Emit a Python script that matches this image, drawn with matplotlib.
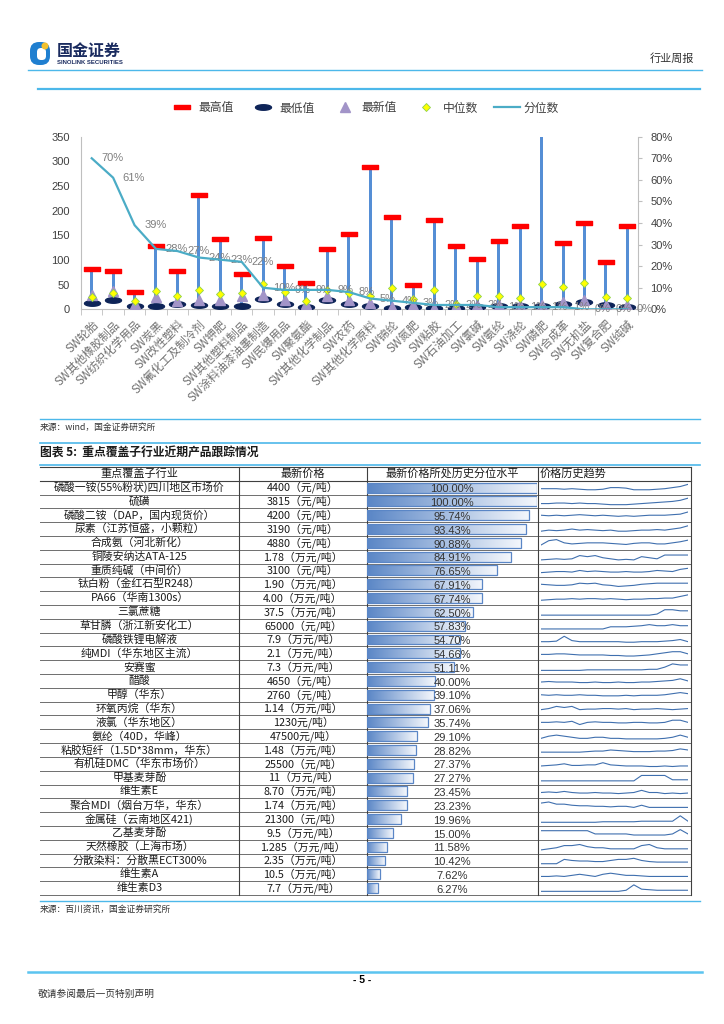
import numpy as np
import matplotlib
matplotlib.use('Agg')
import matplotlib.pyplot as plt
from matplotlib.path import Path
from matplotlib.lines import Line2D
from matplotlib.colors import LinearSegmentedColormap
from matplotlib.patches import FancyBboxPatch, Circle
from matplotlib.ticker import FuncFormatter

plt.rcParams['font.family'] = ['Liberation Sans', 'Noto Sans CJK SC', 'DejaVu Sans']
CJK = ['Noto Sans CJK SC', 'DejaVu Sans']

# ---- chart data (top) ----
categories = ['SW轮胎', 'SW其他橡胶制品', 'SW纺织化学用品', 'SW炭黑', 'SW改性塑料',
              'SW氟化工及制冷剂', 'SW钾肥', 'SW其他塑料制品', 'SW涂料油漆油墨制造',
              'SW民爆用品', 'SW聚氨酯', 'SW其他化学制品', 'SW农药', 'SW其他化学原料',
              'SW锦纶', 'SW氮肥', 'SW粘胶', 'SW石油加工', 'SW氯碱', 'SW氨纶', 'SW涤纶',
              'SW磷肥', 'SW合成革', 'SW无机盐', 'SW复合肥', 'SW纯碱']
max_vals = [81, 77, 36, 128, 77, 232, 142, 72, 145, 87, 53, 122, 153, 288,
            188, 49, 182, 128, 101, 139, 169, 360, 134, 174, 95, 169]
min_vals = [12, 18, 7, 7, 10, 8, 7, 7, 20, 10, 4, 18, 11, 7,
            3, 5, 2, 3, 5, 7, 7, 6, 11, 15, 9, 5]
latest_vals = [29, 37, 11, 24, 16, 18, 19, 26, 30, 18, 10, 27, 18, 12,
               5, 9, 2, 6, 8, 9, 9, 8, 15, 18, 9, 9]
median_vals = [24, 34, 16, 37, 26, 40, 31, 33, 51, 36, 16, 40, 33, 26,
               43, 21, 39, 11, 26, 27, 23, 51, 45, 53, 24, 23]
pct_vals = [70, 61, 39, 28, 27, 24, 23, 22, 10, 9, 9, 9, 8, 5,
            4, 3, 2, 2, 2, 1, 1, 1, 1, 0, 0, 0]

# ---- table data (bottom) ----
products = ['磷酸一铵(55%粉状)四川地区市场价', '硫磺', '磷酸二铵（DAP，国内现货价）',
            '尿素（江苏恒盛，小颗粒）', '合成氨（河北新化）', '铜陵安纳达ATA-125',
            '重质纯碱（中间价）', '钛白粉（金红石型R248）', 'PA66（华南1300s）', '三氯蔗糖',
            '草甘膦（浙江新安化工）', '磷酸铁锂电解液', '纯MDI（华东地区主流）', '安赛蜜',
            '醋酸', '甲醇（华东）', '环氧丙烷（华东）', '液氯（华东地区）', '氨纶（40D，华峰）',
            '粘胶短纤（1.5D*38mm，华东）', '有机硅DMC（华东市场价）', '甲基麦芽酚', '维生素E',
            '聚合MDI（烟台万华，华东）', '金属硅（云南地区421)', '乙基麦芽酚',
            '天然橡胶（上海市场）', '分散染料：分散黑ECT300%', '维生素A', '维生素D3']
prices = ['4400（元/吨）', '3815（元/吨）', '4200（元/吨）', '3190（元/吨）', '4880（元/吨）',
          '1.78（万元/吨）', '3100（元/吨）', '1.90（万元/吨）', '4.00（万元/吨）',
          '37.5（万元/吨）', '65000（元/吨）', '7.9（万元/吨）', '2.1（万元/吨）',
          '7.3（万元/吨）', '4650（元/吨）', '2760（元/吨）', '1.14（万元/吨）', '1230元/吨）',
          '47500元/吨）', '1.48（万元/吨）', '25500（元/吨）', '11（万元/吨）', '8.70（万元/吨）',
          '1.74（万元/吨）', '21300（元/吨）', '9.5（万元/吨）', '1.285（万元/吨）',
          '2.35（万元/吨）', '10.5（万元/吨）', '7.7（万元/吨）']
quantiles = [100.00, 100.00, 95.74, 93.43, 90.88, 84.91, 76.65, 67.91, 67.74, 62.50,
             57.83, 54.70, 54.66, 51.11, 40.00, 39.10, 37.06, 35.74, 29.10, 28.82,
             27.37, 27.27, 23.45, 23.23, 19.96, 15.00, 11.58, 10.42, 7.62, 6.27]
# rough price history read off the sparklines
trend_vals = [
    [4, 4, 4, 3.5, 4, 3.5, 3, 3, 3.5, 5, 5, 4.5, 3, 3, 3, 3.5, 4, 5, 6, 8],
    [3, 3, 3.5, 3.5, 3, 3.5, 3, 3, 2.5, 2, 2, 2, 2.5, 3, 3.5, 4, 4.5, 5, 6, 8],
    [5, 4.5, 5, 4.5, 5, 5.5, 5, 4.5, 5, 4.5, 4, 4.5, 4, 4.5, 5, 5, 5, 5.5, 6, 8],
    [3, 4, 3.5, 4, 5, 4, 4.5, 4, 3.5, 4, 3, 3, 3.5, 4, 4, 4.5, 4, 5, 6, 8],
    [3, 7, 8, 5, 4, 4.5, 5, 5, 5, 4.5, 4, 3.5, 4.5, 5, 5, 4, 4, 5, 6, 7.5],
    [2, 2.5, 3, 2.5, 3, 6, 5, 6, 4, 3, 2, 2.5, 2, 5, 4, 3, 6.5, 6.5, 6.5, 6.5],
    [3, 3.5, 4, 4, 3.5, 5, 4, 4.5, 4, 3.5, 3.5, 4, 3.5, 3.5, 4, 5, 4.5, 4, 6, 7],
    [5, 4.5, 4, 4, 4.5, 6, 5.5, 6, 4.5, 4, 3, 3.5, 4, 5, 5.5, 6, 6, 6, 6, 6],
    [3, 3.5, 4, 4, 4.5, 4, 4.5, 4.5, 4, 4.5, 4, 3.5, 4, 4, 4.5, 4.5, 5, 5, 6.5, 8],
    [2, 2, 2, 2, 2, 2, 2, 2, 2, 2, 2, 2, 2, 2, 2, 3, 7, 7, 6, 6],
    [2, 2, 2, 2, 2, 2, 2, 2, 2, 4, 4, 4, 4.5, 5, 6, 5, 5, 6, 5, 5],
    [3, 3, 3.5, 8, 4, 3, 3, 3, 3, 3, 3, 2.5, 2.5, 3, 3, 3, 3.5, 4, 5, 3],
    [4, 4, 4.5, 4.5, 4, 3.5, 3.5, 3.5, 3.5, 3, 3, 2.5, 2.5, 3, 3.5, 4.5, 5.5, 6.5, 6.5, 4.5],
    [2, 2, 2, 2, 2, 2, 2.5, 2.5, 2.5, 2.5, 2.5, 2.5, 2.5, 2.5, 3, 3, 5, 8, 7, 7],
    [4, 4.5, 4, 4, 4, 3.5, 3.5, 4, 3.5, 3.5, 4, 3.5, 3.5, 4, 4, 4.5, 5, 5.5, 7, 5],
    [5, 4.5, 5, 4.5, 4.5, 5, 4.5, 4.5, 4, 4, 4, 4.5, 4, 4.5, 4.5, 4.5, 5, 6, 7, 6],
    [4, 5, 7, 6, 7, 4, 4.5, 4.5, 5, 5, 4.5, 5, 4, 4.5, 4.5, 5, 4.5, 4, 4.5, 5],
    [5, 5, 5.5, 5, 6, 3, 5, 5.5, 5, 5, 4.5, 4.5, 5, 5, 4.5, 4.5, 5, 7, 7, 5],
    [3, 5, 6, 5, 4, 3, 3, 4, 4, 3, 3, 2.5, 2.5, 2.5, 2.5, 2.5, 3, 4, 6, 4],
    [3, 3, 3, 3, 3, 3, 3.5, 4, 4, 5, 4.5, 4, 3.5, 3.5, 3.5, 4, 4, 4.5, 6, 5],
    [3, 3.5, 4, 5, 3.5, 3.5, 4, 4, 6, 4, 3.5, 3, 3, 3, 2.5, 2.5, 3, 2.5, 3, 3],
    [2, 2, 2, 2, 2, 2, 2, 2, 2, 2, 2, 2, 2, 7, 7, 7, 7, 3, 3, 3],
    [4, 4.5, 4, 5, 4, 3.5, 3.5, 4, 3.5, 3.5, 3, 3.5, 4, 6, 4, 4, 3, 3.5, 3, 3.5],
    [7, 8, 6, 6, 5, 4.5, 4.5, 4, 4, 3.5, 4, 4, 3, 5, 3, 3, 3, 3, 3, 3],
    [2, 2, 2, 2, 2, 2, 2, 2, 2.5, 2.5, 2.5, 2.5, 2.5, 3, 3, 3, 3, 3, 8, 3],
    [7, 7, 7, 7, 7, 7, 7, 4, 4, 4, 4, 4, 3, 3, 3, 3, 3, 4, 8, 4],
    [2, 3, 4, 6, 6, 7, 5, 4, 4, 3, 3, 3, 3, 6, 7, 4, 3, 3, 3, 3],
    [2, 2, 2, 6, 5, 4.5, 4.5, 4, 4, 5, 6, 6, 7, 5, 4, 3.5, 3.5, 3.5, 3.5, 3.5],
    [3, 3, 3.5, 3, 4, 5, 4, 3, 5, 6, 5, 4, 4, 3.5, 3, 3, 3, 3, 3, 3],
    [2, 2, 2, 2, 2, 2, 2, 2, 2, 2, 2, 3, 8, 4, 3.5, 3, 3, 3, 3, 3],
]

W, H = 724, 1024
BLUE_LINE = '#4DB8EA'
fig = plt.figure(figsize=(7.24, 10.24), dpi=100)


def box(x0, y0, x1, y1):
    # pixel box -> figure fraction
    return [x0 / W, 1 - y1 / H, (x1 - x0) / W, (y1 - y0) / H]


page = fig.add_axes([0, 0, 1, 1])
page.set_xlim(0, W)
page.set_ylim(H, 0)
page.axis('off')

# header
page.add_patch(FancyBboxPatch((30, 42), 20, 23, boxstyle='round,pad=0,rounding_size=9',
                              fc='#1F7FD0', ec='none'))
page.add_patch(FancyBboxPatch((37, 48), 9, 12, boxstyle='round,pad=0,rounding_size=4',
                              fc='white', ec='none'))
page.add_patch(Circle((45, 46), 3.5, fc='#F2C12E', ec='none'))
page.text(57, 51, '国金证券', fontfamily=CJK, fontsize=11.5, fontweight='bold',
          color='#1A2B5F', va='center')
page.text(57, 63, 'SINOLINK SECURITIES', fontsize=4.3, fontweight='bold',
          color='#1A2B5F', va='center')
page.text(694, 59, '行业周报', fontfamily=CJK, fontsize=8, color='#333333',
          ha='right', va='center')
page.plot([28, 702], [69.5, 69.5], color=BLUE_LINE, lw=1.0)
page.plot([38, 700], [88.5, 88.5], color=BLUE_LINE, lw=1.6)

# ---- top chart ----
n = len(categories)
x = np.arange(n)
cap = Path([(-1.6, -0.5), (1.6, -0.5), (1.6, 0.5), (-1.6, 0.5), (-1.6, -0.5)], closed=True)
t = np.linspace(0, 2 * np.pi, 40)
oval = Path(np.column_stack([1.45 * np.cos(t), 0.5 * np.sin(t)]), closed=True)

ax = fig.add_axes(box(81, 136.7, 638, 309.3))
ax.set_xlim(-0.5, n - 0.5)
ax.set_ylim(0, 350)
ax.bar(x, np.array(max_vals) - np.array(min_vals), bottom=min_vals, width=0.14,
       color='#558ED5', zorder=2)
ax.plot(x, max_vals, ls='none', marker=cap, ms=11.5, color='#FF0000', zorder=3)
ax.plot(x, min_vals, ls='none', marker=oval, ms=11.5, color='#0E2458', zorder=3)
ax.plot(x, latest_vals, ls='none', marker='^', ms=7, color='#A294C8', zorder=4)
ax.plot(x, median_vals, ls='none', marker='D', ms=4.5, mfc='#FFFF00', mec='#8FD14F',
        mew=0.6, zorder=5)
ax.set_yticks(np.arange(0, 351, 50))
ax.tick_params(axis='y', length=0, pad=8, labelsize=8, labelcolor='#404040')
ax.set_xticks(x)
ax.set_xticklabels(categories, rotation=45, ha='right', rotation_mode='anchor',
                   fontfamily=CJK, fontsize=8.3, fontweight='light', color='#707070')
ax.tick_params(axis='x', which='major', length=0, pad=6)
ax.set_xticks(np.arange(n + 1) - 0.5, minor=True)
ax.tick_params(axis='x', which='minor', length=4, color='#BFBFBF')
for s in ['top', 'right']:
    ax.spines[s].set_visible(False)
for s in ['left', 'bottom']:
    ax.spines[s].set_color('#BFBFBF')

ax2 = ax.twinx()
ax2.set_ylim(0, 0.8)
ax2.plot(x, np.array(pct_vals) / 100, color='#4BACC6', lw=1.6, zorder=6)
for xi, p in zip(x, pct_vals):
    ax2.annotate(f'{p}%', (xi, p / 100), xytext=(7, 0), textcoords='offset points',
                 ha='left', va='center', fontsize=8, color='#7F7F7F')
ax2.set_yticks(np.arange(0, 0.81, 0.1))
ax2.yaxis.set_major_formatter(FuncFormatter(lambda v, _: f'{v * 100:.0f}%'))
ax2.tick_params(axis='y', length=3, color='#BFBFBF', pad=6, labelsize=8, labelcolor='#404040')
for s in ['top', 'left', 'bottom']:
    ax2.spines[s].set_visible(False)
ax2.spines['right'].set_color('#BFBFBF')

handles = [
    Line2D([], [], ls='none', marker=cap, ms=11.5, color='#FF0000'),
    Line2D([], [], ls='none', marker=oval, ms=11.5, color='#0E2458'),
    Line2D([], [], ls='none', marker='^', ms=7, color='#A294C8'),
    Line2D([], [], ls='none', marker='D', ms=4.5, mfc='#FFFF00', mec='#8FD14F', mew=0.6),
    Line2D([], [], color='#4BACC6', lw=1.6),
]
fig.legend(handles, ['最高值', '最低值', '最新值', '中位数', '分位数'], ncol=5,
           loc='center', bbox_to_anchor=(364 / W, 1 - 108 / H), frameon=False,
           prop={'family': CJK, 'size': 8.5}, labelcolor='#404040',
           handlelength=2.2, handletextpad=0.3, columnspacing=1.4)

page.plot([40, 700], [418.5, 418.5], color=BLUE_LINE, lw=1.0)
page.text(40, 427, '来源：wind，国金证券研究所', fontfamily=CJK, fontsize=6.3,
          color='#333333', va='center')

# ---- table ----
page.plot([40, 700], [443, 443], color=BLUE_LINE, lw=1.2)
page.plot([40, 700], [464.5, 464.5], color=BLUE_LINE, lw=1.2)
page.text(40, 453.5, '图表 5:  重点覆盖子行业近期产品跟踪情况', fontfamily=CJK,
          fontsize=8.5, fontweight='bold', color='#1A1A1A', va='center')

cols = [40, 239, 367, 538, 691]
top, head_bot, bot = 466.7, 480.7, 895.0
nr = len(products)
rh = (bot - head_bot) / nr

page.plot([cols[0], cols[-1]], [top, top], color='#404040', lw=0.8)
page.plot([cols[0], cols[-1]], [head_bot, head_bot], color='#404040', lw=0.8)
for i in range(1, nr + 1):
    yy = head_bot + i * rh
    page.plot([cols[0], cols[-1]], [yy, yy], color='#6E6E6E', lw=0.7)
for cx in cols[1:]:
    page.plot([cx, cx], [top, bot], color='#404040', lw=0.8)

hy = (top + head_bot) / 2
page.text((cols[0] + cols[1]) / 2, hy, '重点覆盖子行业', fontfamily=CJK, fontsize=8,
          ha='center', va='center', color='#1A1A1A')
page.text((cols[1] + cols[2]) / 2, hy, '最新价格', fontfamily=CJK, fontsize=8,
          ha='center', va='center', color='#1A1A1A')
page.text((cols[2] + cols[3]) / 2, hy, '最新价格所处历史分位水平', fontfamily=CJK, fontsize=8,
          ha='center', va='center', color='#1A1A1A')
page.text(cols[3] + 2, hy, '价格历史趋势', fontfamily=CJK, fontsize=8,
          ha='left', va='center', color='#1A1A1A')

for i in range(nr):
    cy = head_bot + (i + 0.5) * rh
    page.text((cols[0] + cols[1]) / 2, cy, products[i], fontfamily=CJK, fontsize=7.8,
              ha='center', va='center', color='#1A1A1A')
    page.text((cols[1] + cols[2]) / 2, cy, prices[i], fontfamily=CJK, fontsize=7.8,
              ha='center', va='center', color='#1A1A1A')

# data bars with gradient
axb = fig.add_axes(box(367.3, head_bot, 536.7, bot))
axb.set_xlim(0, 100)
axb.set_ylim(nr, 0)
axb.axis('off')
grad = LinearSegmentedColormap.from_list('g', ['#5A86C6', '#F4F7FC'])
yb = np.arange(nr) + 0.5
bars = axb.barh(yb, quantiles, height=0.72, fill=False, edgecolor='#5A86C6', lw=0.9, zorder=3)
for yc, q, b in zip(yb, quantiles, bars):
    im = axb.imshow(np.linspace(0, 1, 256).reshape(1, -1), cmap=grad, aspect='auto',
                    extent=[0, q, yc + 0.36, yc - 0.36], zorder=2)
    im.set_clip_path(b)
    axb.text(50, yc + 0.12, f'{q:.2f}%', ha='center', va='center', fontsize=8,
             color='#333333', zorder=4)

# sparklines
for i, vals in enumerate(trend_vals):
    y0 = head_bot + i * rh
    axs = fig.add_axes(box(541, y0 + 1.5, 688, y0 + rh - 1.5))
    axs.plot(np.arange(len(vals)), vals, color='#3F6FAE', lw=0.8)
    axs.set_xlim(0, len(vals) - 1)
    axs.set_ylim(0, 10)
    axs.axis('off')

page.plot([40, 700], [900.7, 900.7], color=BLUE_LINE, lw=1.0)
page.text(40, 909, '来源：百川资讯，国金证券研究所', fontfamily=CJK, fontsize=6.3,
          color='#333333', va='center')

# footer
page.plot([28, 702], [972, 972], color='#5BC4F0', lw=1.8)
page.text(362, 980, '- 5 -', fontsize=7.5, fontweight='bold', ha='center', va='center')
page.text(38, 994, '敬请参阅最后一页特别声明', fontfamily=CJK, fontsize=7, color='#333333',
          va='center')

fig.savefig('out.png', dpi=100)
